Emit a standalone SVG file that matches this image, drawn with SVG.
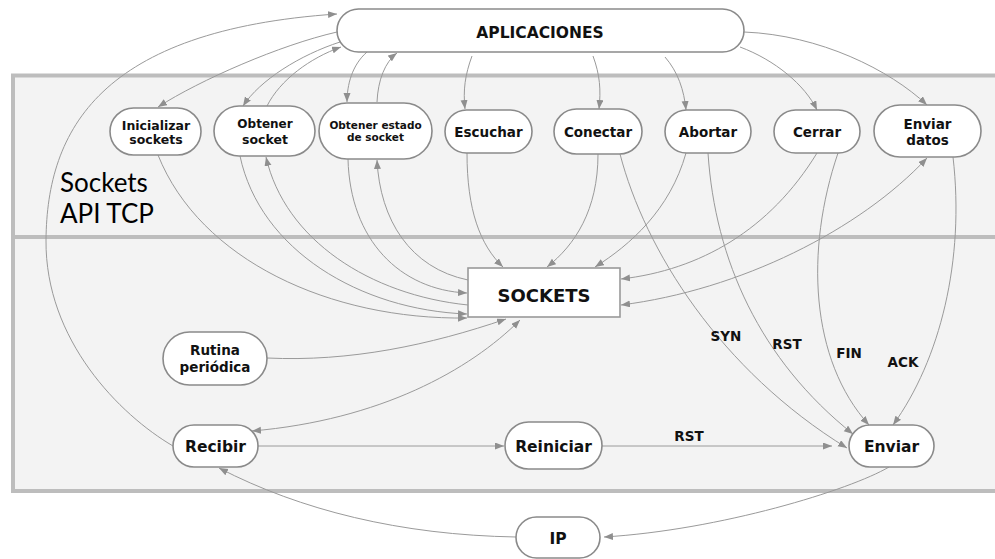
<svg xmlns="http://www.w3.org/2000/svg" width="995" height="559" viewBox="0 0 995 559">
  <style>
    .panel { fill: #f3f3f3; stroke: #bdbdbd; stroke-width: 4; }
    .node { fill: #ffffff; stroke: #8a8a8a; stroke-width: 1.6; }
    .t { font-family: "DejaVu Sans", Verdana, sans-serif; font-weight: bold; fill: #111111; text-anchor: middle; }
    .big { font-family: Lato, "Open Sans", sans-serif; font-size: 26px; fill: #000000; }
    .edge { fill: none; stroke: #9a9a9a; stroke-width: 1; marker-end: url(#arrow); }
    .both { marker-start: url(#arrow); }
    .lbl { font-family: "DejaVu Sans", Verdana, sans-serif; font-weight: bold; font-size: 13.5px; fill: #111111; text-anchor: middle; }
  </style>
  <defs>
    <marker id="arrow" markerUnits="userSpaceOnUse" markerWidth="10" markerHeight="8" refX="9" refY="3.5" orient="auto-start-reverse">
      <path d="M0,0 L9,3.5 L0,7 z" fill="#8f8f8f"/>
    </marker>
  </defs>

  <!-- layer panels -->
  <g id="panels">
    <rect class="panel" x="13" y="75.5" width="1000" height="161.5"/>
    <rect class="panel" x="13" y="237" width="1000" height="254"/>
    <text class="big" x="60" y="192">Sockets</text>
    <text class="big" x="60" y="223">API TCP</text>
  </g>

  <!-- connectors -->
  <g id="connectors">
    <!-- from APLICACIONES down to the API calls -->
    <path class="edge" d="M337,32 C280,45 200,80 158,107"/>
    <path class="edge" d="M340,42 C300,55 260,80 243,106"/>
    <path class="edge" d="M267,106 C280,80 310,58 341,47"/>
    <path class="edge" d="M367,52 C352,65 347,85 347,102"/>
    <path class="edge" d="M377,102 C378,80 385,62 397,53"/>
    <path class="edge" d="M472,56 C465,75 463,90 465,109"/>
    <path class="edge" d="M593,56 C600,75 601,90 599,109"/>
    <path class="edge" d="M665,57 C678,72 684,90 686,110"/>
    <path class="edge" d="M740,47 C775,60 805,85 817,110"/>
    <path class="edge" d="M744,32 C820,35 890,70 927,105"/>

    <!-- API calls to and from SOCKETS -->
    <path class="edge" d="M158,155 C200,260 330,320 467,318"/>
    <path class="edge" d="M240,156 C260,250 360,310 467,314"/>
    <path class="edge" d="M468,305 C370,295 285,240 266,157"/>
    <path class="edge" d="M348,159 C350,240 400,290 467,293"/>
    <path class="edge" d="M468,280 C410,268 380,220 377,160"/>
    <path class="edge" d="M467,153 C467,210 480,245 503,267"/>
    <path class="edge" d="M598,154 C598,210 575,245 547,267"/>
    <path class="edge" d="M686,153 C670,210 630,245 595,267"/>
    <path class="edge" d="M817,153 C770,230 700,270 621,279"/>
    <path class="edge both" d="M621,305 C740,290 860,230 927,158"/>

    <!-- SOCKETS with the periodic routine and receive -->
    <path class="edge" d="M267,358 C350,362 430,345 506,319"/>
    <path class="edge both" d="M520,320 C470,370 380,420 252,431"/>

    <!-- segments sent -->
    <path class="edge" d="M620,154 C645,250 720,370 847,448"/>
    <path class="edge" d="M708,153 C715,260 760,360 853,434"/>
    <path class="edge" d="M838,153 C805,250 810,360 869,425"/>
    <path class="edge" d="M953,157 C965,260 940,360 893,425"/>
    <path class="edge" d="M258,446 L504,446"/>
    <path class="edge" d="M602,446 L832,446"/>

    <!-- IP layer -->
    <path class="edge" d="M889,467 C850,490 720,530 604,537"/>
    <path class="edge" d="M516,537 C400,535 300,510 219,468"/>
    <path class="edge" d="M173,446 C120,415 45,340 46,240 C47,130 100,30 337,14"/>

    <text class="lbl" x="726" y="341">SYN</text>
    <text class="lbl" x="787" y="349">RST</text>
    <text class="lbl" x="849" y="358">FIN</text>
    <text class="lbl" x="903" y="367">ACK</text>
    <text class="lbl" x="689" y="441">RST</text>
  </g>

  <!-- nodes -->
  <g id="aplicaciones">
    <rect class="node" x="337" y="9" width="407" height="43" rx="21.5"/>
    <text class="t" x="540" y="37.5" font-size="15.5">APLICACIONES</text>
  </g>
  <g id="inicializar">
    <rect class="node" x="110" y="108" width="91" height="47" rx="23.5"/>
    <text class="t" x="156" y="130" font-size="12.5">Inicializar</text>
    <text class="t" x="156" y="143.5" font-size="12.5">sockets</text>
  </g>
  <g id="obtener-socket">
    <rect class="node" x="214" y="106" width="101" height="50" rx="25"/>
    <text class="t" x="265" y="127.5" font-size="12">Obtener</text>
    <text class="t" x="265" y="143.5" font-size="12.5">socket</text>
  </g>
  <g id="obtener-estado">
    <rect class="node" x="319" y="103" width="113" height="56" rx="28"/>
    <text class="t" x="375.5" y="129" font-size="10.5">Obtener estado</text>
    <text class="t" x="375.5" y="141" font-size="10.5">de socket</text>
  </g>
  <g id="escuchar">
    <rect class="node" x="445" y="110" width="87" height="43" rx="21.5"/>
    <text class="t" x="488.5" y="136.5" font-size="13.5">Escuchar</text>
  </g>
  <g id="conectar">
    <rect class="node" x="554" y="109" width="88" height="45" rx="22.5"/>
    <text class="t" x="598" y="136.5" font-size="13.5">Conectar</text>
  </g>
  <g id="abortar">
    <rect class="node" x="665" y="110" width="86" height="43" rx="21.5"/>
    <text class="t" x="708" y="136.5" font-size="13.5">Abortar</text>
  </g>
  <g id="cerrar">
    <rect class="node" x="774" y="110" width="86" height="43" rx="21.5"/>
    <text class="t" x="817" y="136.5" font-size="13.5">Cerrar</text>
  </g>
  <g id="enviar-datos">
    <rect class="node" x="874" y="105" width="107" height="52" rx="26"/>
    <text class="t" x="927.5" y="128.5" font-size="13.5">Enviar</text>
    <text class="t" x="927.5" y="145" font-size="13.5">datos</text>
  </g>
  <g id="sockets">
    <rect x="468" y="268" width="152" height="49" fill="#ffffff" stroke="#999999" stroke-width="1.6"/>
    <text class="t" x="544" y="301.5" font-size="18">SOCKETS</text>
  </g>
  <g id="rutina">
    <rect class="node" x="163" y="332" width="104" height="53" rx="26.5"/>
    <text class="t" x="215" y="355" font-size="13.5">Rutina</text>
    <text class="t" x="215" y="371.5" font-size="13.5">periódica</text>
  </g>
  <g id="recibir">
    <rect class="node" x="173" y="425" width="85" height="42" rx="21"/>
    <text class="t" x="215.5" y="451.5" font-size="15.5">Recibir</text>
  </g>
  <g id="reiniciar">
    <rect class="node" x="505" y="422" width="97" height="47" rx="23.5"/>
    <text class="t" x="553.5" y="451.5" font-size="15.5">Reiniciar</text>
  </g>
  <g id="enviar">
    <rect class="node" x="849" y="425" width="85" height="42" rx="21"/>
    <text class="t" x="891.5" y="451.5" font-size="15.5">Enviar</text>
  </g>
  <g id="ip">
    <rect class="node" x="516" y="517" width="84" height="41" rx="20.5"/>
    <text class="t" x="558" y="543.5" font-size="15.5">IP</text>
  </g>
</svg>
